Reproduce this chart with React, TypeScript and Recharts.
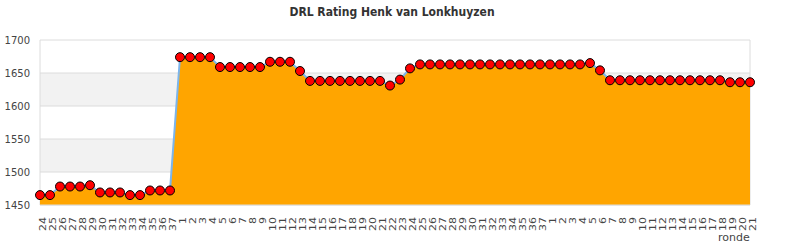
import { ComposedChart, Area, XAxis, YAxis, CartesianGrid } from 'recharts';

// speelronden over drie seizoenen
const rondes = [
  '24', '25', '26', '27', '28', '29', '30', '31', '32', '33', '34', '35', '36', '37',
  '1', '2', '3', '4', '5', '6', '7', '8', '9', '10', '11', '12', '13', '14', '15', '16', '17', '18', '19',
  '20', '21', '22', '23', '24', '25', '26', '27', '28', '29', '30', '31', '32', '33', '34', '35', '36', '37',
  '1', '2', '3', '4', '5', '6', '7', '8', '9', '10', '11', '12', '13', '14', '15', '16', '17', '18', '19',
  '20', '21',
];

const ratings = [
  1465, 1465, 1478, 1478, 1478, 1480, 1469, 1469, 1469, 1465, 1465, 1472, 1472, 1472,
  1674, 1674, 1674, 1674, 1659, 1659, 1659, 1659, 1659, 1667, 1667, 1667, 1653, 1638, 1638, 1638, 1638, 1638, 1638,
  1638, 1638, 1631, 1640, 1657, 1663, 1663, 1663, 1663, 1663, 1663, 1663, 1663, 1663, 1663, 1663, 1663, 1663,
  1663, 1663, 1663, 1663, 1665, 1654, 1639, 1639, 1639, 1639, 1639, 1639, 1639, 1639, 1639, 1639, 1639, 1639,
  1636, 1636, 1636,
];

const yTicks = [1450, 1500, 1550, 1600, 1650, 1700];

const data = rondes.map((ronde, i) => ({ ronde, rating: ratings[i] }));

const font = '"DejaVu Sans", sans-serif';

const RondeTick = ({ x, y, payload }: any) => (
  <text
    transform={`translate(${x + 6},${y + 4}) rotate(-90) scale(1,0.72)`}
    textAnchor="end"
    fontSize={11}
    fontFamily={font}
    fill="#444"
  >
    {payload.value}
  </text>
);

export default function App() {
  return (
    <div style={{ position: 'absolute', left: 0, top: 0, width: 790, height: 250, background: '#fff' }}>
      <div
        style={{
          position: 'absolute', left: 0, top: 5, width: 784, textAlign: 'center',
          fontFamily: '"DejaVu Sans Condensed", "DejaVu Sans", sans-serif', fontStretch: 'condensed',
          fontWeight: 'bold', fontSize: 12, color: '#333',
        }}
      >
        DRL Rating Henk van Lonkhuyzen
      </div>
      <ComposedChart width={790} height={250} data={data} margin={{ top: 40, right: 40, bottom: 0, left: 0 }}>
        <CartesianGrid
          stroke="#dcdcdc"
          horizontalFill={['#ffffff', '#f2f2f2']}
          verticalPoints={[40, 750]}
        />
        <XAxis
          dataKey="ronde"
          interval={0}
          height={45}
          tick={<RondeTick />}
          tickLine={false}
          axisLine={{ stroke: '#dcdcdc' }}
        />
        <YAxis
          domain={[1450, 1700]}
          ticks={yTicks}
          width={40}
          tickMargin={4}
          axisLine={false}
          tickLine={false}
          tick={{ fontSize: 10, fontFamily: font, fill: '#444' }}
        />
        <Area
          type="linear"
          dataKey="rating"
          stroke="#7cb5ec"
          strokeWidth={2}
          fill="#ffa500"
          fillOpacity={1}
          baseValue={1450}
          dot={{ r: 4.5, fill: '#ff0000', stroke: '#000', strokeWidth: 1, fillOpacity: 1 }}
          activeDot={false}
          isAnimationActive={false}
        />
      </ComposedChart>
      <div
        style={{
          position: 'absolute', left: 718, top: 231, fontFamily: font, fontSize: 11, color: '#444',
        }}
      >
        ronde
      </div>
    </div>
  );
}
